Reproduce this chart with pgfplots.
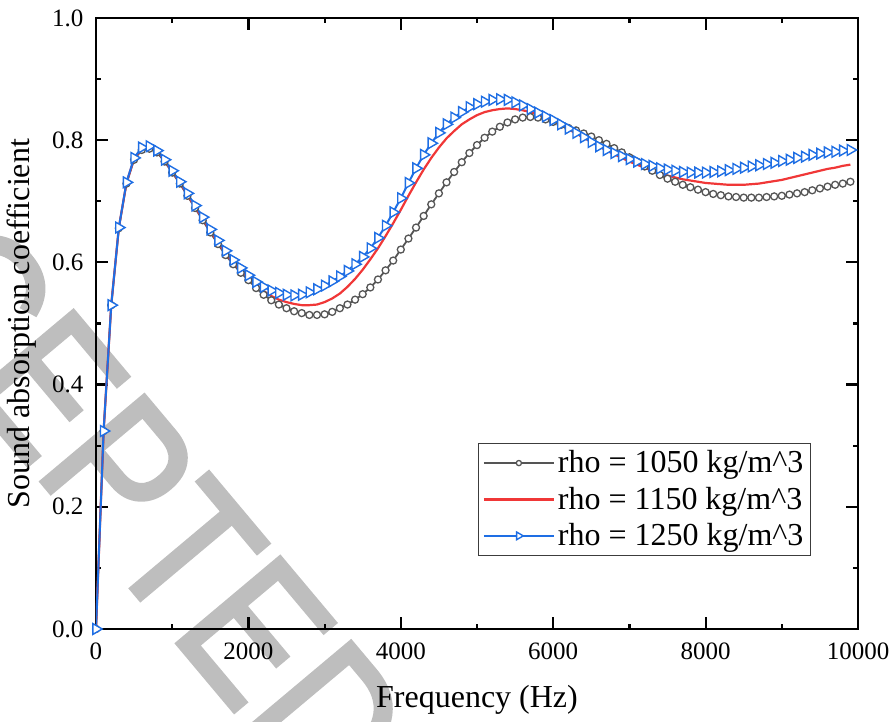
\documentclass[border=0pt]{standalone}
\usepackage{fontspec}
\setmainfont{Liberation Serif}
\newfontfamily\wmfont[RawFeature={embolden=2}]{Liberation Sans}
\usepackage{pgfplots}
\usepackage{pgfplotstable}
\pgfplotsset{compat=1.18}
\definecolor{cblack}{RGB}{85,85,85}
\definecolor{cred}{RGB}{240,55,55}
\definecolor{cblue}{RGB}{30,110,228}
\definecolor{wmgray}{RGB}{190,190,190}
\definecolor{legframe}{RGB}{60,60,60}
\pgfplotstableread{
f b r t
0 0 0 0
100 .324 .324 .324
200 .530 .530 .530
300 .656 .657 .657
400 .729 .730 .731
500 .768 .770 .771
600 .784 .786 .788
700 .786 .788 .790
800 .780 .782 .783
900 .765 .767 .768
1000 .747 .749 .750
1100 .729 .731 .732
1200 .709 .711 .713
1300 .689 .691 .693
1400 .669 .672 .674
1500 .649 .652 .654
1600 .630 .633 .636
1700 .612 .615 .619
1800 .597 .600 .604
1900 .583 .587 .591
2000 .571 .575 .579
2100 .558 .563 .568
2200 .547 .553 .560
2300 .538 .545 .554
2400 .531 .539 .550
2500 .525 .535 .547
2600 .520 .532 .546
2700 .517 .530 .547
2800 .514 .530 .551
2900 .514 .531 .556
3000 .515 .535 .562
3100 .519 .541 .569
3200 .525 .549 .577
3300 .531 .560 .586
3400 .539 .573 .597
3500 .548 .588 .609
3600 .559 .605 .623
3700 .572 .623 .640
3800 .587 .643 .660
3900 .603 .664 .682
4000 .621 .686 .705
4100 .639 .709 .730
4200 .657 .731 .754
4300 .676 .752 .776
4400 .695 .771 .795
4500 .713 .788 .812
4600 .731 .803 .826
4700 .748 .815 .837
4800 .764 .826 .846
4900 .779 .834 .854
5000 .792 .841 .859
5100 .804 .846 .863
5200 .814 .849 .866
5300 .822 .851 .867
5400 .829 .852 .866
5500 .834 .851 .862
5600 .837 .849 .857
5700 .838 .846 .851
5800 .837 .842 .845
5900 .834 .837 .839
6000 .830 .831 .833
6100 .825 .825 .826
6200 .820 .818 .819
6300 .816 .811 .812
6400 .811 .804 .805
6500 .806 .797 .797
6600 .800 .790 .790
6700 .794 .783 .784
6800 .787 .777 .779
6900 .780 .771 .774
7000 .772 .765 .769
7100 .765 .760 .765
7200 .757 .755 .761
7300 .750 .750 .758
7400 .743 .746 .754
7500 .737 .742 .752
7600 .732 .739 .750
7700 .727 .736 .748
7800 .723 .734 .747
7900 .719 .732 .747
8000 .715 .730 .747
8100 .712 .729 .748
8200 .710 .728 .749
8300 .708 .727 .751
8400 .707 .727 .753
8500 .706 .727 .755
8600 .706 .728 .757
8700 .706 .729 .759
8800 .707 .731 .761
8900 .708 .733 .763
9000 .709 .735 .766
9100 .711 .738 .768
9200 .713 .741 .771
9300 .715 .744 .773
9400 .718 .747 .776
9500 .721 .750 .778
9600 .724 .753 .780
9700 .727 .755 .781
9800 .729 .758 .783
9900 .732 .760 .784
}\datatable
\begin{document}
\begin{tikzpicture}
\useasboundingbox (-48pt,-46.5pt) rectangle (399pt,314.5pt);
% watermark
\node[rotate=-50, anchor=base west, inner sep=0pt, text=wmgray, overlay]
  at (-179.5pt,255pt) {\scalebox{0.846}[1]{\fontsize{97.7}{100}\wmfont ACCEPTED}};
\begin{axis}[
  at={(0pt,0pt)}, anchor=south west,
  scale only axis, width=381pt, height=305.5pt,
  xmin=0, xmax=10000, ymin=0, ymax=1,
  xtick={0,2000,4000,6000,8000,10000},
  ytick={0,0.2,0.4,0.6,0.8,1.0},
  minor x tick num=1, minor y tick num=1,
  tick align=inside, xtick pos=both, ytick pos=both,
  xticklabel pos=lower, yticklabel pos=left,
  major tick length=6pt, minor tick length=2.7pt,
  every tick/.style={black, line width=1.1pt},
  axis line style={black, line width=1.3pt},
  /pgf/number format/assume math mode=true,
  xticklabel style={/pgf/number format/set thousands separator={}, yshift=-3.3pt},
  yticklabel style={/pgf/number format/fixed, /pgf/number format/fixed zerofill, /pgf/number format/precision=1, xshift=-2.8pt},
  scaled x ticks=false,
  tick label style={font=\fontsize{12.5}{15}\selectfont},
  label style={font=\fontsize{16}{19}\selectfont},
  xlabel={Frequency (Hz)},
  ylabel={Sound absorption coefficient},
  xlabel style={at={(axis description cs:0.5,-0.1154)}, anchor=center, inner sep=0pt},
  ylabel style={at={(axis description cs:-0.0971,0.5)}, anchor=center, inner sep=0pt},
  legend style={at={(0.9383,0.1195)}, anchor=south east, draw=legframe, line width=0.5pt,
    font=\fontsize{16}{19}\selectfont, inner sep=2pt, row sep=2.6pt, nodes={inner sep=1.5pt}},
  legend cell align=left,
]
\addplot[cblack, line width=0.9pt, mark=*, mark size=1.75pt,
  mark options={fill=white, draw=cblack, line width=0.65pt, solid},
  legend image code/.code={\draw[mark repeat=2, mark phase=2, mark size=1.3pt] plot coordinates {(0pt,0pt) (17.5pt,0pt) (35pt,0pt)};}
  ] table[x=f, y=b] {\datatable};
\addlegendentry{rho = 1050 kg/m\^{}3}
\addplot[cred, line width=1.1pt,
  legend image code/.code={\draw plot coordinates {(0pt,0pt) (35pt,0pt)};}
  ] table[x=f, y=r] {\datatable};
\addlegendentry{rho = 1150 kg/m\^{}3}
\addplot[cblue, line width=1pt, mark=triangle*, mark size=3.1pt,
  mark options={fill=white, draw=cblue, line width=0.7pt, solid, rotate=-90},
  legend image code/.code={\draw[mark repeat=2, mark phase=2, mark size=2.2pt] plot coordinates {(0pt,0pt) (17.5pt,0pt) (35pt,0pt)};}
  ] table[x=f, y=t] {\datatable};
\addlegendentry{rho = 1250 kg/m\^{}3}
\end{axis}
\end{tikzpicture}
\end{document}
